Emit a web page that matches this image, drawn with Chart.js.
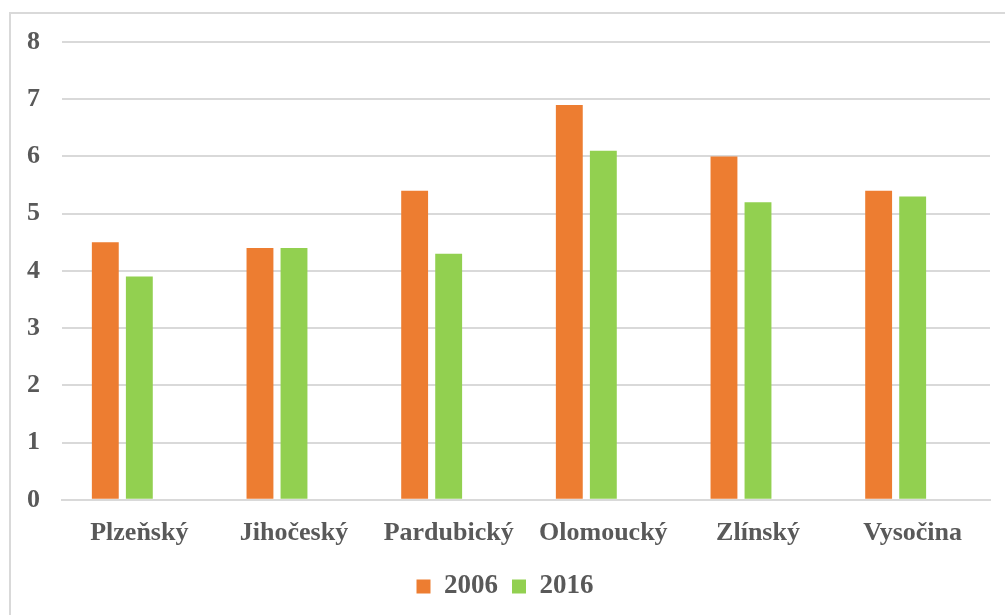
<!DOCTYPE html>
<html>
<head>
<meta charset="utf-8">
<script src="https://cdn.jsdelivr.net/npm/chart.js@4/dist/chart.umd.min.js"></script>
<style>
  body { margin: 0; background: #fff; overflow: hidden; }
  #frame { position: absolute; left: 9px; top: 12px; width: 1100px; height: 700px; border: 2px solid #d9d9d9; }
  #wrap { position: absolute; left: 0; top: 0; width: 1005px; height: 615px; }
</style>
</head>
<body>
<div id="frame"></div>
<div id="wrap"><canvas id="chart"></canvas></div>
<script>
// regions and values
const regions = ['Plzeňský', 'Jihočeský', 'Pardubický', 'Olomoucký', 'Zlínský', 'Vysočina'];
const values2006 = [4.5, 4.4, 5.4, 6.9, 6.0, 5.4];
const values2016 = [3.9, 4.4, 4.3, 6.1, 5.2, 5.3];
// empty third series (Excel leaves a slot for it)
const valuesEmpty = [null, null, null, null, null, null];

const font = { family: '"Liberation Serif", "Times New Roman", serif', weight: 'bold' };

const chart_data = {
    labels: regions,
    datasets: [{
        label: '2006',
        data: values2006,
        backgroundColor: '#ED7D31',
        barPercentage: 0.79,
        categoryPercentage: 0.66
    }, {
        label: '2016',
        data: values2016,
        backgroundColor: '#92D050',
        barPercentage: 0.79,
        categoryPercentage: 0.66
    }, {
        label: '',
        data: valuesEmpty,
        backgroundColor: 'rgba(0,0,0,0)',
        barPercentage: 0.79,
        categoryPercentage: 0.66
    }]
};

const config = {
    type: 'bar',
    data: chart_data,
    options: {
        responsive: true,
        maintainAspectRatio: false,
        animation: false,
        layout: { padding: { left: 20, right: 15, top: 42, bottom: 5 } },
        plugins: {
            tooltip: { enabled: false },
            legend: {
                position: 'bottom',
                labels: {
                    filter: item => item.text !== '',
                    boxWidth: 14,
                    boxHeight: 14,
                    padding: 14,
                    color: '#595959',
                    font: { ...font, size: 27 }
                }
            }
        },
        scales: {
            x: {
                grid: { display: false },
                border: { color: '#d9d9d9', width: 2 },
                ticks: { color: '#595959', font: { ...font, size: 26 }, padding: 10 }
            },
            y: {
                min: 0,
                max: 8,
                afterFit: scale => { scale.width = 42; },
                grid: { color: '#d9d9d9', lineWidth: 2, drawTicks: false },
                border: { display: false },
                ticks: { stepSize: 1, color: '#595959', font: { ...font, size: 26 }, padding: 22 }
            }
        }
    }
};

const chart = new Chart(document.getElementById('chart'), config);
</script>
</body>
</html>
